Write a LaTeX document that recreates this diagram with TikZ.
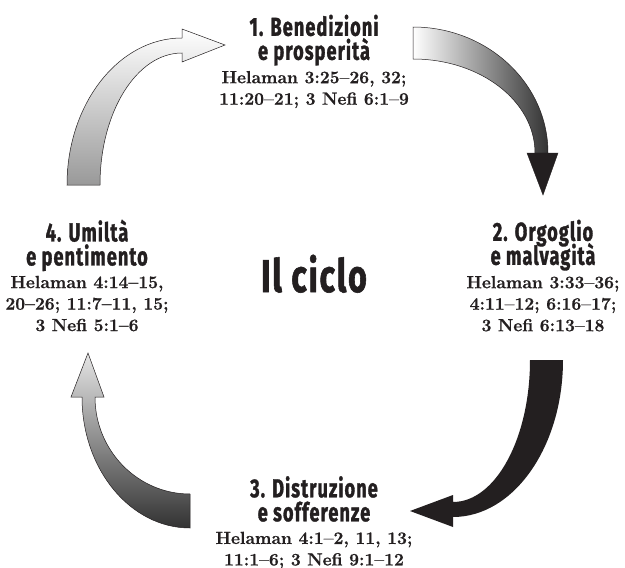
\documentclass[tikz,border=0pt]{standalone}
\usepackage{fontspec}
\usepackage{tikz}
\usetikzlibrary{positioning}
\newfontfamily\titlefont{Fira Sans}[FakeStretch=0.7, LetterSpace=4, BoldFeatures={FakeBold=1.2}]
\newfontfamily\reffont{Latin Modern Roman}[BoldFeatures={FakeBold=0.8}]
\definecolor{ink}{HTML}{231F20}

\begin{document}
\begin{tikzpicture}[x=1pt, y=-1pt,
  title/.style={font={\titlefont\bfseries\fontsize{26}{24}\selectfont\lineskiplimit=-50pt}, text=ink, align=center, anchor=north, inner sep=0pt},
  refs/.style={font={\reffont\bfseries\fontsize{17.5}{21.5}\selectfont\lineskiplimit=-50pt}, text=ink, align=center, anchor=north, inner sep=0pt},
  outline/.style={draw=ink, line width=0.5pt}]
  \fill[white] (0,0) rectangle (625,568);
  \useasboundingbox (0,0) rectangle (625,568);

  % arrow from 4 to 1
  \shadedraw[outline, top color=white, bottom color=black!40]
    (67,185) .. controls (67,104) and (118.5,38) .. (182,38)
    -- (182,29) -- (225,45) -- (182,62) -- (182,53)
    .. controls (136.7,53) and (100,112) .. (100,185) -- cycle;

  % arrow from 1 to 2
  \shadedraw[outline, left color=white, right color=black!80]
    (413,27) .. controls (487.5,27) and (548,83.4) .. (548,153)
    -- (535,153) .. controls (535,101) and (480,59) .. (413,59) -- cycle;
  \filldraw[ink] (527,153) -- (558,153) -- (543,195) -- cycle;

  % arrow from 2 to 3
  \fill[ink] (530,360) -- (563,360)
    .. controls (563,446.7) and (513.7,517) .. (453,517)
    -- (453,527) -- (410,511) -- (453,495) -- (453,502)
    .. controls (495.5,502) and (530,438.4) .. (530,360) -- cycle;

  % arrow from 3 to 4
  \shadedraw[outline, top color=black!10, bottom color=black!80]
    (190,528) .. controls (130.4,528) and (82,469.3) .. (82,397)
    -- (71,397) -- (88,353) -- (104,397) -- (95,397)
    .. controls (95,450.5) and (137.6,494) .. (190,494) -- cycle;

  \node[title] (ben) at (314,14.5) {\strut 1. Benedizioni\\\strut e prosperità};
  \node[refs, below=0.75pt of ben] (benref) {\strut Helaman 3:25–26, 32;\\\strut 11:20–21; 3 Nefi 6:1–9};

  \node[title] (org) at (543,219.5) {\strut 2. Orgoglio\\\strut e malvagità};
  \node[refs, below=0.75pt of org] (orgref) {\strut Helaman 3:33–36;\\\strut 4:11–12; 6:16–17;\\\strut 3 Nefi 6:13–18};

  \node[title] (dis) at (314,476) {\strut 3. Distruzione\\\strut e sofferenze};
  \node[refs, below=0pt of dis] (disref) {\strut Helaman 4:1–2, 11, 13;\\\strut 11:1–6; 3 Nefi 9:1–12};

  \node[title] (umi) at (87,219.5) {\strut 4. Umiltà\\\strut e pentimento};
  \node[refs, below=0pt of umi] (umiref) {\strut Helaman 4:14–15,\\\strut 20–26; 11:7–11, 15;\\\strut 3 Nefi 5:1–6};

  \node[font={\titlefont\bfseries\fontsize{46}{50}\selectfont}, text=ink, anchor=base, inner sep=0pt] (ciclo) at (314,292) {Il ciclo};
\end{tikzpicture}
\end{document}
